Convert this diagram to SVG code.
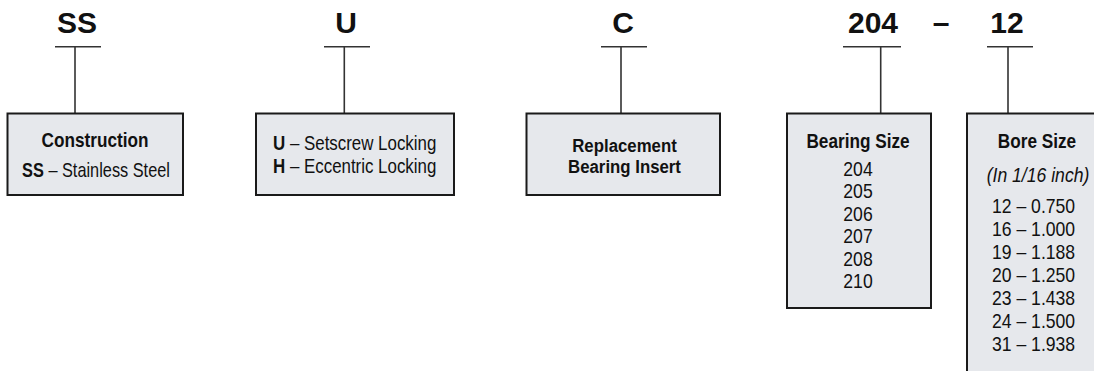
<svg xmlns="http://www.w3.org/2000/svg" width="1094" height="371" viewBox="0 0 1094 371">
<style>
.code{font-family:"Liberation Sans",Arial,sans-serif;font-weight:bold;font-size:30px;fill:#111;text-anchor:middle}
.box{fill:#e6e8ec;stroke:#1a1a1a;stroke-width:2}
.ln{stroke:#333;stroke-width:1.6;fill:none}
.t{font-family:"Liberation Sans",Arial,sans-serif;font-size:20px;fill:#111}
.b{font-weight:bold}
.c{text-anchor:middle}
.i{font-style:italic}
</style>
<rect width="1094" height="371" fill="#fff"/>
<g id="connectors">
<path class="ln" d="M55 46.7H101M75 46.7V113"/>
<path class="ln" d="M324 46.7H370M344.3 46.7V113"/>
<path class="ln" d="M601 46.7H647M621 46.7V113"/>
<path class="ln" d="M843 46.7H901M880.7 46.7V113"/>
<path class="ln" d="M987 46.7H1033M1008 46.7V113"/>
</g>
<g id="code-labels">
<text class="code" x="77" y="33">SS</text>
<text class="code" x="346" y="33">U</text>
<text class="code" x="623" y="33">C</text>
<text class="code" x="873" y="33">204</text>
<text class="code" x="941" y="33">–</text>
<text class="code" x="1007" y="33">12</text>
</g>
<g id="construction">
<rect class="box" x="7.5" y="113.5" width="175.5" height="81.5"/>
<text class="t b c" transform="translate(95,147) scale(0.86,1)">Construction</text>
<text class="t c" transform="translate(96,177) scale(0.816,1)"><tspan class="b">SS</tspan> – Stainless Steel</text>
</g>
<g id="locking">
<rect class="box" x="256" y="113.5" width="198" height="81.5"/>
<text class="t" transform="translate(273,150) scale(0.845,1)"><tspan x="0" y="0"><tspan class="b">U</tspan> – Setscrew Locking</tspan><tspan x="0" y="23"><tspan class="b">H</tspan> – Eccentric Locking</tspan></text>
</g>
<g id="insert">
<rect class="box" x="526.5" y="113.5" width="193.5" height="81.5"/>
<text class="t b c" style="font-size:19px" transform="translate(624.5,151.5) scale(0.884,1)"><tspan x="0" y="0">Replacement</tspan><tspan x="0" y="21.7">Bearing Insert</tspan></text>
</g>
<g id="bearing-size">
<rect class="box" x="787" y="113.5" width="144" height="194.5"/>
<text class="t b c" transform="translate(858,148) scale(0.86,1)">Bearing Size</text>
<text class="t c" transform="translate(858,176) scale(0.88,1)"><tspan x="0" y="0">204</tspan><tspan x="0" y="22.5">205</tspan><tspan x="0" y="45">206</tspan><tspan x="0" y="67.5">207</tspan><tspan x="0" y="90">208</tspan><tspan x="0" y="112.5">210</tspan></text>
</g>
<g id="bore-size">
<rect class="box" x="967" y="113.5" width="140" height="270"/>
<text class="t b c" transform="translate(1037,148) scale(0.86,1)">Bore Size</text>
<text class="t i c" transform="translate(1038,182) scale(0.88,1)">(In 1/16 inch)</text>
<text class="t" transform="translate(992,213) scale(0.88,1)"><tspan x="0" y="0">12 – 0.750</tspan><tspan x="0" y="23">16 – 1.000</tspan><tspan x="0" y="46">19 – 1.188</tspan><tspan x="0" y="69">20 – 1.250</tspan><tspan x="0" y="92">23 – 1.438</tspan><tspan x="0" y="115">24 – 1.500</tspan><tspan x="0" y="138">31 – 1.938</tspan></text>
</g>
</svg>
